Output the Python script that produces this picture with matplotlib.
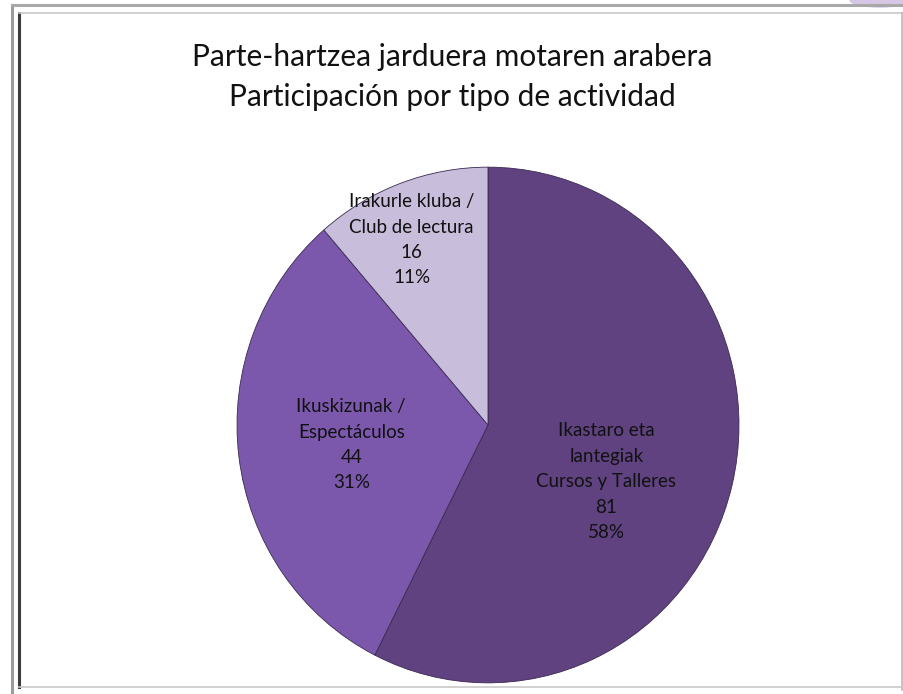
import numpy as np
import matplotlib.pyplot as plt
from matplotlib.lines import Line2D
from matplotlib.patches import Ellipse

title = "Parte-hartzea jarduera motaren arabera\nParticipación por tipo de actividad"

categories = ["Ikastaro eta\nlantegiak\nCursos y Talleres",
              "Ikuskizunak /\nEspectáculos",
              "Irakurle kluba /\nClub de lectura"]
values = [81, 44, 16]
percents = ["58%", "31%", "11%"]

colors = ["#5f427f", "#7b58ab", "#c8bedc"]

# label spots inside each slice (fraction of radius, angle in degrees)
label_pos = [(0.52, -25), (0.55, 188), (0.78, 113)]

W, H = 904, 694
fig = plt.figure(figsize=(W / 100, H / 100), dpi=100)
fig.patch.set_facecolor("white")

# pie is a bit taller than wide in the reference
cx, cy, rx, ry = 488, 425, 256, 263
ax = fig.add_axes([(cx - rx) / W, (H - cy - ry) / H, 2 * rx / W, 2 * ry / H])

wedges, _ = ax.pie(values, colors=colors, startangle=90, counterclock=False,
                   radius=1.0,
                   wedgeprops=dict(edgecolor="#3a2a50", linewidth=0.6))
ax.set_aspect("auto")
ax.set_xlim(-1.02, 1.02)
ax.set_ylim(-1.02, 1.02)
ax.axis("off")

for cat, v, p, (r, a) in zip(categories, values, percents, label_pos):
    x = r * np.cos(np.radians(a))
    y = r * np.sin(np.radians(a))
    ax.text(x, y, "%s\n%d\n%s" % (cat, v, p), ha="center", va="center",
            fontsize=13.5, family="Lato", color="#111111", linespacing=1.6)

fig.text(0.5, 1 - 77 / H, title, ha="center", va="center", fontsize=21.5,
         family="Lato", color="#111111", linespacing=1.5)

# frame lines (pixel coords, y from top)
def fline(x0, y0, x1, y1, c, lw):
    fig.add_artist(Line2D([x0 / W, x1 / W], [1 - y0 / H, 1 - y1 / H],
                          color=c, lw=lw, transform=fig.transFigure))

fline(12, 5, 12, 694, "#9c9c9c", 2.2)
fline(12, 5, 904, 5, "#a8a8a8", 2.2)
fline(19.5, 13, 19.5, 687, "#3c3c3c", 2.2)
fline(19.5, 13, 904, 13, "#c8c8c8", 1.2)
fline(902.5, 13, 902.5, 690, "#b8b8b8", 1.2)
fline(19.5, 687, 904, 687, "#c8c8c8", 1.2)

# purple blob peeking in at the top right corner
fig.add_artist(Ellipse((880 / W, 1.0), 60 / W, 14 / H, color="#d7c6e6",
                       transform=fig.transFigure))

fig.savefig("out.png", dpi=100)
